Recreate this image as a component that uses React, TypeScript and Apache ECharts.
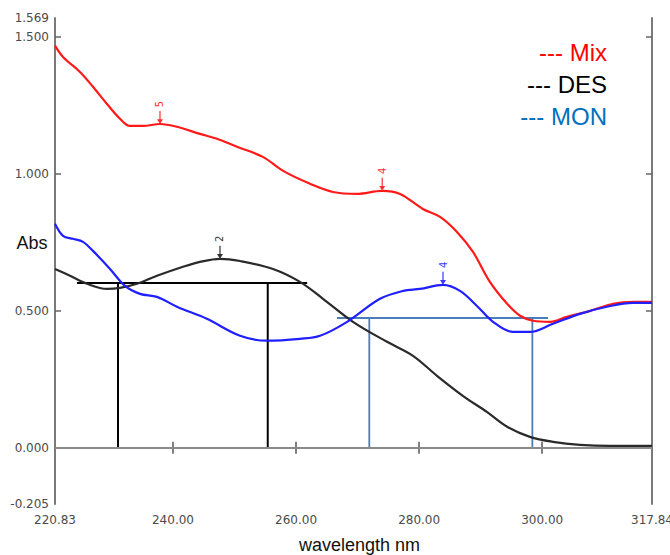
import React, { useEffect, useRef } from "react";
import * as echarts from "echarts";

// ---- data ----
const mixWavelength = [220.83, 222.13, 224.89, 227.0, 229.28, 231.39, 233.0, 235.13, 237.89, 240.65, 244.39, 247.15, 250.4, 254.6, 257.9, 262.27, 266.0, 269.9, 274.0, 276.9, 280.6, 283.4, 286.15, 288.75, 291.5, 294.3, 296.4, 298.5, 301.3, 304.0, 307.8, 311.5, 314.75, 317.84];
const mixAbs = [1.468, 1.427, 1.372, 1.318, 1.255, 1.201, 1.175, 1.175, 1.182, 1.172, 1.146, 1.128, 1.099, 1.062, 1.011, 0.964, 0.934, 0.927, 0.938, 0.927, 0.872, 0.843, 0.788, 0.715, 0.606, 0.526, 0.482, 0.464, 0.46, 0.478, 0.5, 0.526, 0.533, 0.533];

const desWavelength = [220.83, 223.27, 226.03, 229.28, 231.39, 234.15, 237.4, 241.63, 244.39, 247.64, 250.9, 256.25, 260.64, 264.38, 269.25, 274.78, 279.0, 282.9, 287.1, 291.0, 294.3, 298.0, 301.75, 306.14, 311.0, 317.84];
const desAbs = [0.653, 0.628, 0.599, 0.58, 0.584, 0.599, 0.628, 0.661, 0.679, 0.69, 0.682, 0.653, 0.606, 0.544, 0.46, 0.387, 0.336, 0.263, 0.19, 0.131, 0.077, 0.04, 0.022, 0.011, 0.007, 0.007];

const monWavelength = [220.83, 222.13, 223.75, 225.38, 227.0, 229.77, 232.2, 234.64, 237.4, 240.65, 245.5, 250.9, 255.28, 260.64, 263.9, 268.3, 273.64, 277.4, 280.14, 283.88, 286.64, 289.4, 292.0, 295.25, 298.0, 301.75, 306.14, 310.5, 314.75, 317.84];
const monAbs = [0.818, 0.774, 0.763, 0.752, 0.719, 0.653, 0.591, 0.562, 0.551, 0.515, 0.471, 0.409, 0.391, 0.398, 0.409, 0.46, 0.544, 0.573, 0.58, 0.595, 0.573, 0.518, 0.46, 0.423, 0.423, 0.453, 0.489, 0.515, 0.529, 0.529];

// peak markers: [wavelength, abs, label]
const mixPeaks: [number, number, string][] = [[237.89, 1.182, "5"], [274.0, 0.938, "4"]];
const desPeaks: [number, number, string][] = [[247.64, 0.69, "2"]];
const monPeaks: [number, number, string][] = [[283.88, 0.595, "4"]];

// construction lines (segments of [x1, y1, x2, y2])
const desGuides: [number, number, number, number][] = [
  [224.4, 0.602, 261.8, 0.602],
  [231.07, 0, 231.07, 0.602],
  [255.4, 0, 255.4, 0.602],
];
const monGuides: [number, number, number, number][] = [
  [266.65, 0.474, 300.94, 0.474],
  [271.9, 0, 271.9, 0.474],
  [298.4, 0, 298.4, 0.474],
];

// axes
const xMin = 220.83;
const xMax = 317.84;
const xTickValues = [240, 260, 280, 300];
const xLabelValues = [220.83, 240, 260, 280, 300, 317.84];
const yMin = -0.205;
const yMax = 1.569;
const yTickValues = [0.5, 1.0, 1.5];
const yLabelValues = [-0.205, 0, 0.5, 1.0, 1.5, 1.569];

const legendItems = [
  { text: "--- Mix", color: "#ff0000" },
  { text: "--- DES", color: "#000000" },
  { text: "--- MON", color: "#0070c0" },
];

const zip = (xs: number[], ys: number[]) => xs.map((x, i) => [x, ys[i]]);

const ARROW = "path://M4,0 L6,0 L6,10 L10,10 L5,16 L0,10 L4,10 Z";

function peakMarks(peaks: [number, number, string][], color: string) {
  return {
    symbol: ARROW,
    symbolSize: [6, 13],
    symbolOffset: [0, "-50%"],
    silent: true,
    itemStyle: { color },
    label: {
      show: true,
      position: "top",
      distance: 7,
      rotate: 90,
      align: "center",
      verticalAlign: "middle",
      formatter: "{b}",
      fontSize: 10,
      color,
      fontFamily: "DejaVu Sans",
    },
    data: peaks.map(([x, y, n]) => ({ name: n, coord: [x, y] })),
  };
}

function guideSeries(segs: [number, number, number, number][], color: string, width: number) {
  return segs.map(([x1, y1, x2, y2]) => ({
    type: "line",
    data: [[x1, y1], [x2, y2]],
    showSymbol: false,
    symbol: "none",
    silent: true,
    lineStyle: { color, width },
    z: 3,
  }));
}

export default function App() {
  const ref = useRef<HTMLDivElement>(null);
  useEffect(() => {
    if (!ref.current) return;
    const chart = echarts.init(ref.current, undefined, { renderer: "svg" });
    const axisColor = "#7a7a7a";
    const labelStyle = { fontFamily: "DejaVu Sans", fontSize: 12, color: "#4a4a4a" };
    const option: any = {
      animation: false,
      backgroundColor: "#ffffff",
      grid: { left: 55, right: 18, top: 18, bottom: 51, containLabel: false, outerBoundsMode: "none" },
      xAxis: [
        {
          type: "value",
          position: "bottom",
          min: xMin,
          max: xMax,
          name: "wavelength nm",
          nameLocation: "middle",
          nameGap: 32,
          nameTextStyle: { fontFamily: "Liberation Sans", fontSize: 18, color: "#111", padding: [0, 0, 0, 12] },
          axisLine: { show: true, lineStyle: { color: axisColor, width: 2 } },
          axisTick: { show: true, inside: true, length: 6, customValues: xTickValues, lineStyle: { color: "#555", width: 1.5 } },
          axisLabel: { ...labelStyle, margin: 10, customValues: xLabelValues, formatter: (v: number) => v.toFixed(2) },
          splitLine: { show: false },
        },
        {
          type: "value",
          position: "top",
          min: xMin,
          max: xMax,
          axisLine: { show: true, lineStyle: { color: axisColor, width: 2 } },
          axisTick: { show: true, inside: true, length: 6, customValues: xTickValues, lineStyle: { color: "#555", width: 1.5 } },
          axisLabel: { show: false },
          splitLine: { show: false },
        },
      ],
      yAxis: [
        {
          type: "value",
          position: "left",
          min: yMin,
          max: yMax,
          axisLine: { show: true, lineStyle: { color: axisColor, width: 2 } },
          axisTick: { show: true, inside: true, length: 6, customValues: yTickValues, lineStyle: { color: "#666", width: 1.5 } },
          axisLabel: { ...labelStyle, margin: 6, customValues: yLabelValues, formatter: (v: number) => v.toFixed(3) },
          splitLine: { show: false },
        },
        {
          type: "value",
          position: "right",
          min: yMin,
          max: yMax,
          axisLine: { show: true, lineStyle: { color: axisColor, width: 2 } },
          axisTick: { show: true, inside: true, length: 6, customValues: yTickValues, lineStyle: { color: "#666", width: 1.5 } },
          axisLabel: { show: false },
          splitLine: { show: false },
        },
      ],
      series: [
        {
          name: "DES",
          type: "line",
          data: zip(desWavelength, desAbs),
          smooth: 0.35,
          showSymbol: false,
          symbol: "none",
          lineStyle: { color: "#2a2a2a", width: 2.2 },
          z: 4,
          markPoint: peakMarks(desPeaks, "#333333"),
          markLine: {
            silent: true,
            symbol: "none",
            label: { show: false },
            lineStyle: { color: "#8a8a8a", width: 2, type: "solid" },
            data: [{ yAxis: 0 }],
          },
        },
        {
          name: "MON",
          type: "line",
          data: zip(monWavelength, monAbs),
          smooth: 0.35,
          showSymbol: false,
          symbol: "none",
          lineStyle: { color: "#1f1fff", width: 2.2 },
          z: 5,
          markPoint: peakMarks(monPeaks, "#3a3aff"),
        },
        {
          name: "Mix",
          type: "line",
          data: zip(mixWavelength, mixAbs),
          smooth: 0.35,
          showSymbol: false,
          symbol: "none",
          lineStyle: { color: "#ff1a1a", width: 2.2 },
          z: 4,
          markPoint: peakMarks(mixPeaks, "#ff3030"),
        },
        ...guideSeries(desGuides, "#000000", 2),
        ...guideSeries(monGuides, "#4a7ebb", 1.8),
      ],
      graphic: [
        {
          type: "text",
          x: 32,
          y: 243,
          style: { text: "Abs", fill: "#111", font: '18px "Liberation Sans"', align: "center", verticalAlign: "middle" },
        },
        ...legendItems.map((it, i) => ({
          type: "text",
          x: 607,
          y: 52 + i * 32,
          style: { text: it.text, fill: it.color, font: '24px "Liberation Sans"', align: "right", verticalAlign: "middle" },
        })),
      ],
    };
    chart.setOption(option);
    return () => chart.dispose();
  }, []);
  return <div ref={ref} style={{ position: "fixed", left: 0, top: 0, width: 670, height: 555 }} />;
}
